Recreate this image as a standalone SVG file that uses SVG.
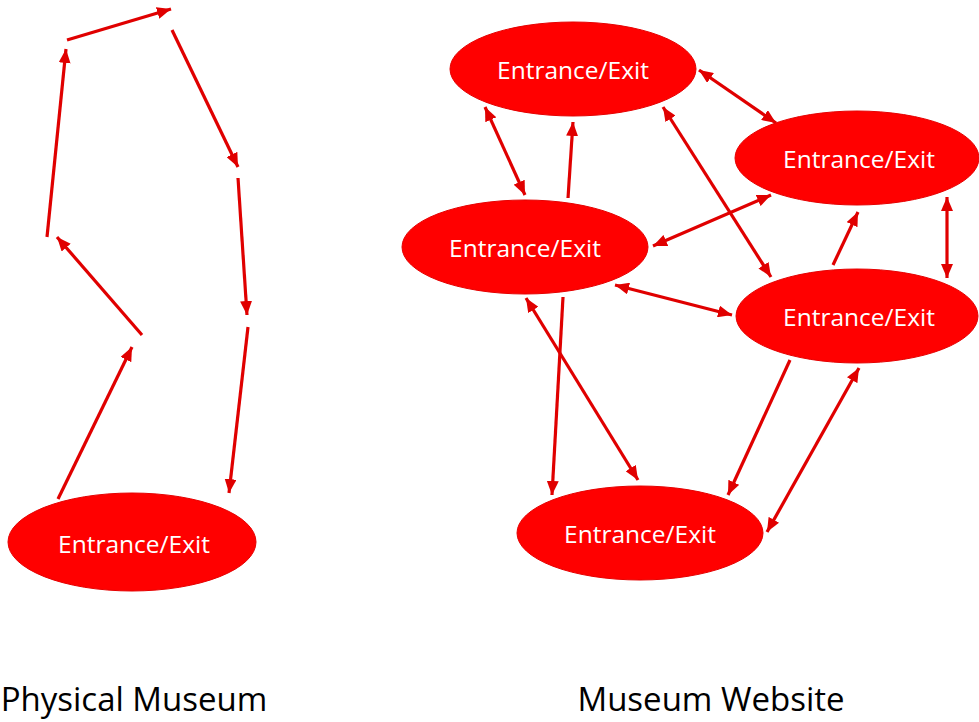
<svg xmlns="http://www.w3.org/2000/svg" width="979" height="722" viewBox="0 0 979 722">
<style>
.node ellipse{fill:#ff0000;stroke:#e60000;stroke-width:1}
.node text{font-family:"Open Sans","Liberation Sans",sans-serif;font-size:24.5px;fill:#ffffff;text-anchor:middle}
.conn line{stroke:#e00000;stroke-width:3.2;fill:none}
.one{marker-end:url(#ah)}
.two{marker-start:url(#ah);marker-end:url(#ah)}
.cap{font-family:"Open Sans","Liberation Sans",sans-serif;font-size:33px;fill:#000;text-anchor:middle}
</style>
<defs>
<marker id="ah" markerUnits="userSpaceOnUse" markerWidth="15" markerHeight="12" refX="14" refY="6" orient="auto-start-reverse">
<path d="M0,0 L14,6 L0,12 z" fill="#e00000"/>
</marker>
</defs>
<rect width="979" height="722" fill="#ffffff"/>
<g id="connectors" class="conn">
<line class="one" x1="58" y1="499" x2="132" y2="347"/>
<line class="one" x1="142" y1="335" x2="57" y2="237"/>
<line class="one" x1="47" y1="237" x2="66" y2="49"/>
<line class="one" x1="67" y1="40" x2="171" y2="9"/>
<line class="one" x1="172" y1="30" x2="238" y2="167"/>
<line class="one" x1="238" y1="178" x2="247" y2="315"/>
<line class="one" x1="248" y1="327" x2="229" y2="493"/>
<line class="two" x1="485" y1="107" x2="525" y2="195"/>
<line class="one" x1="568" y1="198" x2="573" y2="122"/>
<line class="two" x1="663" y1="107" x2="771" y2="277"/>
<line class="two" x1="699" y1="70" x2="776" y2="123"/>
<line class="two" x1="771" y1="195" x2="653" y2="246"/>
<line class="two" x1="947" y1="197" x2="947" y2="278"/>
<line class="one" x1="833" y1="265" x2="858" y2="212"/>
<line class="two" x1="615" y1="285" x2="732" y2="315"/>
<line class="one" x1="563" y1="297" x2="552" y2="495"/>
<line class="two" x1="526" y1="298" x2="638" y2="480"/>
<line class="one" x1="790" y1="360" x2="728" y2="495"/>
<line class="two" x1="859" y1="368" x2="767" y2="532"/>
</g>
<g id="node-physical" class="node">
<ellipse cx="132" cy="542" rx="124" ry="49"/>
<text x="134" y="553">Entrance/Exit</text>
</g>
<g id="node-top" class="node">
<ellipse cx="573" cy="69" rx="123" ry="47"/>
<text x="573" y="79">Entrance/Exit</text>
</g>
<g id="node-midleft" class="node">
<ellipse cx="525" cy="247" rx="123" ry="47"/>
<text x="525" y="257">Entrance/Exit</text>
</g>
<g id="node-rightupper" class="node">
<ellipse cx="857" cy="158" rx="122" ry="47"/>
<text x="859" y="168">Entrance/Exit</text>
</g>
<g id="node-rightlower" class="node">
<ellipse cx="857" cy="316" rx="121" ry="47"/>
<text x="859" y="326">Entrance/Exit</text>
</g>
<g id="node-bottom" class="node">
<ellipse cx="640" cy="533" rx="123" ry="47"/>
<text x="640" y="543">Entrance/Exit</text>
</g>
<text class="cap" x="134" y="711">Physical Museum</text>
<text class="cap" x="711" y="711">Museum Website</text>
</svg>
